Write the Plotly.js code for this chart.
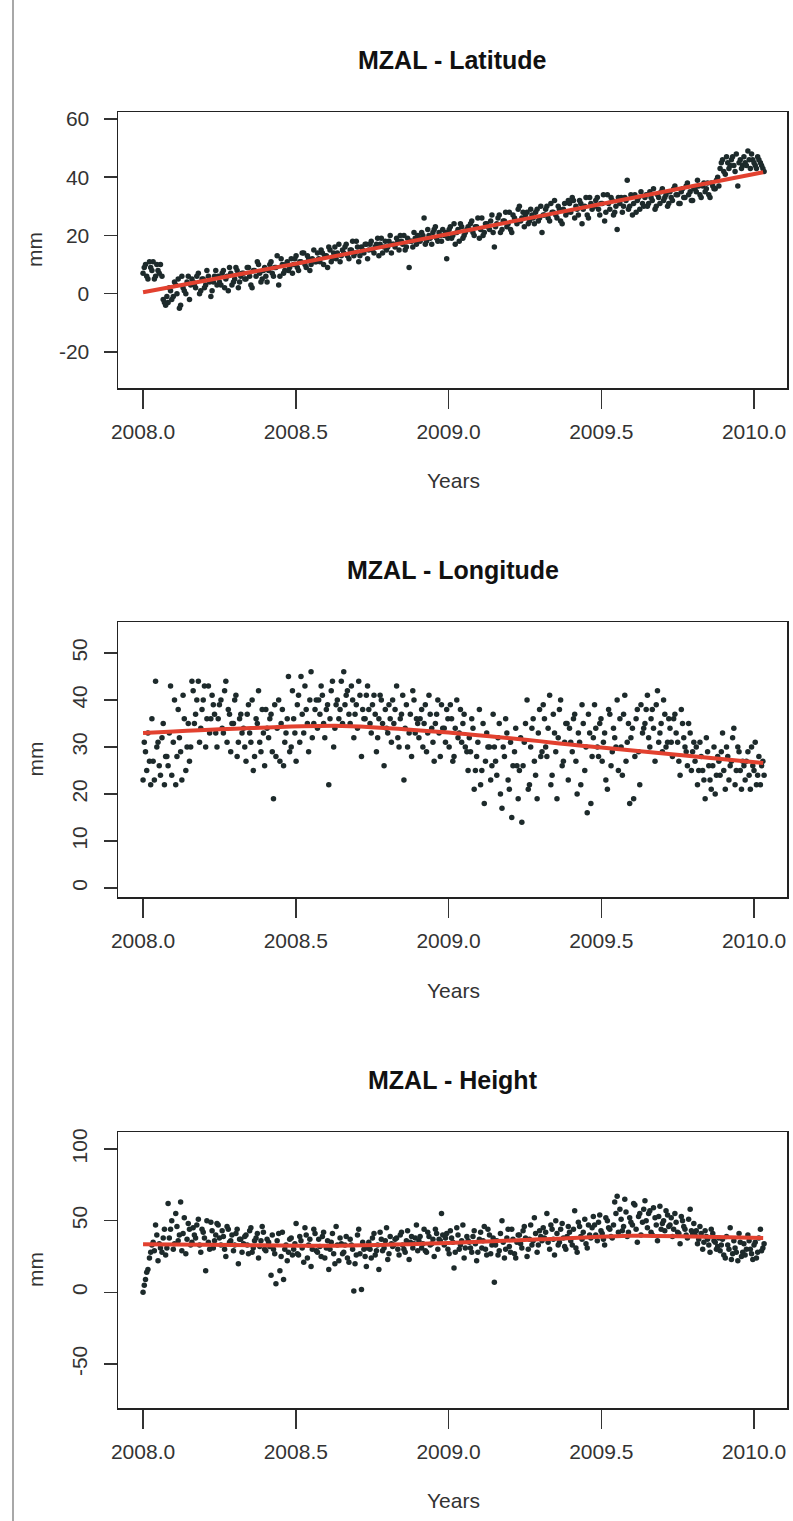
<!DOCTYPE html>
<html>
<head>
<meta charset="utf-8">
<script src="https://cdn.plot.ly/plotly-3.0.1.min.js"></script>
<style>
  html, body { margin: 0; padding: 0; background: #ffffff; }
  #chart { width: 793px; height: 1521px; }
</style>
</head>
<body>
<div id="chart"></div>
<script>
// Observation epochs (decimal years), first and second sampling passes
const epochsA = [
  2008.000, 2008.008, 2008.016, 2008.025, 2008.033, 2008.041, 2008.049, 2008.057, 2008.066, 2008.074,
  2008.082, 2008.090, 2008.099, 2008.107, 2008.115, 2008.123, 2008.131, 2008.140, 2008.148, 2008.156,
  2008.164, 2008.172, 2008.181, 2008.189, 2008.197, 2008.205, 2008.214, 2008.222, 2008.230, 2008.238,
  2008.246, 2008.255, 2008.263, 2008.271, 2008.279, 2008.287, 2008.296, 2008.304, 2008.312, 2008.320,
  2008.329, 2008.337, 2008.345, 2008.353, 2008.361, 2008.370, 2008.378, 2008.386, 2008.394, 2008.402,
  2008.411, 2008.419, 2008.427, 2008.435, 2008.444, 2008.452, 2008.460, 2008.468, 2008.476, 2008.485,
  2008.493, 2008.501, 2008.509, 2008.517, 2008.526, 2008.534, 2008.542, 2008.550, 2008.559, 2008.567,
  2008.575, 2008.583, 2008.591, 2008.600, 2008.608, 2008.616, 2008.624, 2008.632, 2008.641, 2008.649,
  2008.657, 2008.665, 2008.674, 2008.682, 2008.690, 2008.698, 2008.706, 2008.715, 2008.723, 2008.731,
  2008.739, 2008.747, 2008.756, 2008.764, 2008.772, 2008.780, 2008.789, 2008.797, 2008.805, 2008.813,
  2008.821, 2008.830, 2008.838, 2008.846, 2008.854, 2008.862, 2008.871, 2008.879, 2008.887, 2008.895,
  2008.903, 2008.912, 2008.920, 2008.928, 2008.936, 2008.945, 2008.953, 2008.961, 2008.969, 2008.977,
  2008.986, 2008.994, 2009.002, 2009.010, 2009.018, 2009.027, 2009.035, 2009.043, 2009.051, 2009.060,
  2009.068, 2009.076, 2009.084, 2009.092, 2009.101, 2009.109, 2009.117, 2009.125, 2009.134, 2009.142,
  2009.150, 2009.158, 2009.166, 2009.175, 2009.183, 2009.191, 2009.199, 2009.207, 2009.216, 2009.224,
  2009.232, 2009.240, 2009.248, 2009.257, 2009.265, 2009.273, 2009.281, 2009.290, 2009.298, 2009.306,
  2009.314, 2009.322, 2009.331, 2009.339, 2009.347, 2009.355, 2009.363, 2009.372, 2009.380, 2009.388,
  2009.396, 2009.405, 2009.413, 2009.421, 2009.429, 2009.437, 2009.446, 2009.454, 2009.462, 2009.470,
  2009.478, 2009.487, 2009.495, 2009.503, 2009.511, 2009.520, 2009.528, 2009.536, 2009.544, 2009.552,
  2009.561, 2009.569, 2009.577, 2009.585, 2009.593, 2009.602, 2009.610, 2009.618, 2009.626, 2009.635,
  2009.643, 2009.651, 2009.659, 2009.667, 2009.676, 2009.684, 2009.692, 2009.700, 2009.708, 2009.717,
  2009.725, 2009.733, 2009.741, 2009.750, 2009.758, 2009.766, 2009.774, 2009.782, 2009.791, 2009.799,
  2009.807, 2009.815, 2009.823, 2009.832, 2009.840, 2009.848, 2009.856, 2009.865, 2009.873, 2009.881,
  2009.889, 2009.897, 2009.906, 2009.914, 2009.922, 2009.930, 2009.938, 2009.947, 2009.955, 2009.963,
  2009.971, 2009.980, 2009.988, 2009.996, 2010.004, 2010.012, 2010.021, 2010.029
];
const epochsB = [
  2008.004, 2008.012, 2008.021, 2008.029, 2008.037, 2008.045, 2008.053, 2008.062, 2008.070, 2008.078,
  2008.086, 2008.094, 2008.103, 2008.111, 2008.119, 2008.127, 2008.135, 2008.144, 2008.152, 2008.160,
  2008.168, 2008.176, 2008.185, 2008.193, 2008.201, 2008.209, 2008.218, 2008.226, 2008.234, 2008.242,
  2008.250, 2008.259, 2008.267, 2008.275, 2008.283, 2008.291, 2008.300, 2008.308, 2008.316, 2008.324,
  2008.333, 2008.341, 2008.349, 2008.357, 2008.365, 2008.374, 2008.382, 2008.390, 2008.398, 2008.406,
  2008.415, 2008.423, 2008.431, 2008.439, 2008.448, 2008.456, 2008.464, 2008.472, 2008.480, 2008.489,
  2008.497, 2008.505, 2008.513, 2008.521, 2008.530, 2008.538, 2008.546, 2008.554, 2008.563, 2008.571,
  2008.579, 2008.587, 2008.595, 2008.604, 2008.612, 2008.620, 2008.628, 2008.636, 2008.645, 2008.653,
  2008.661, 2008.669, 2008.678, 2008.686, 2008.694, 2008.702, 2008.710, 2008.719, 2008.727, 2008.735,
  2008.743, 2008.751, 2008.760, 2008.768, 2008.776, 2008.784, 2008.793, 2008.801, 2008.809, 2008.817,
  2008.825, 2008.834, 2008.842, 2008.850, 2008.858, 2008.866, 2008.875, 2008.883, 2008.891, 2008.899,
  2008.907, 2008.916, 2008.924, 2008.932, 2008.940, 2008.949, 2008.957, 2008.965, 2008.973, 2008.981,
  2008.990, 2008.998, 2009.006, 2009.014, 2009.022, 2009.031, 2009.039, 2009.047, 2009.055, 2009.064,
  2009.072, 2009.080, 2009.088, 2009.096, 2009.105, 2009.113, 2009.121, 2009.129, 2009.138, 2009.146,
  2009.154, 2009.162, 2009.170, 2009.179, 2009.187, 2009.195, 2009.203, 2009.211, 2009.220, 2009.228,
  2009.236, 2009.244, 2009.252, 2009.261, 2009.269, 2009.277, 2009.285, 2009.294, 2009.302, 2009.310,
  2009.318, 2009.326, 2009.335, 2009.343, 2009.351, 2009.359, 2009.367, 2009.376, 2009.384, 2009.392,
  2009.400, 2009.409, 2009.417, 2009.425, 2009.433, 2009.441, 2009.450, 2009.458, 2009.466, 2009.474,
  2009.482, 2009.491, 2009.499, 2009.507, 2009.515, 2009.524, 2009.532, 2009.540, 2009.548, 2009.556,
  2009.565, 2009.573, 2009.581, 2009.589, 2009.597, 2009.606, 2009.614, 2009.622, 2009.630, 2009.639,
  2009.647, 2009.655, 2009.663, 2009.671, 2009.680, 2009.688, 2009.696, 2009.704, 2009.712, 2009.721,
  2009.729, 2009.737, 2009.745, 2009.754, 2009.762, 2009.770, 2009.778, 2009.786, 2009.795, 2009.803,
  2009.811, 2009.819, 2009.827, 2009.836, 2009.844, 2009.852, 2009.860, 2009.869, 2009.877, 2009.885,
  2009.893, 2009.901, 2009.910, 2009.918, 2009.926, 2009.934, 2009.942, 2009.951, 2009.959, 2009.967,
  2009.975, 2009.984, 2009.992, 2010.000, 2010.008, 2010.016, 2010.025, 2010.033
];

// MZAL latitude component (mm)
const latitudeA = [
  7, 10, 5, 9, 11, 6, 8, 10, -2, -4,
  -3, 1, -1, 3, 5, -4, 2, 0, 6, 3,
  4, 2, 7, 1, 5, 3, 6, -1, 4, 8,
  6, 3, 8, 5, 1, 7, 4, 9, 2, 6,
  7, 5, 9, 3, 8, 6, 10, 4, 8, 6,
  8, 11, 6, 9, 3, 12, 7, 10, 8, 12,
  10, 13, 8, 11, 14, 9, 12, 10, 15, 11,
  12, 15, 10, 13, 16, 11, 14, 12, 17, 13,
  14, 17, 12, 15, 13, 18, 11, 16, 14, 17,
  15, 18, 14, 17, 13, 19, 16, 15, 18, 14,
  17, 19, 15, 18, 20, 16, 9, 18, 21, 17,
  19, 21, 26, 18, 20, 17, 22, 19, 21, 18,
  20, 12, 22, 19, 24, 21, 18, 23, 20, 22,
  22, 25, 20, 23, 19, 26, 21, 24, 22, 27,
  16, 24, 27, 22, 25, 23, 28, 21, 26, 24,
  30, 26, 23, 28, 25, 27, 24, 29, 26, 21,
  27, 30, 25, 28, 32, 26, 29, 24, 31, 28,
  31, 33, 26, 29, 32, 24, 30, 27, 33, 29,
  30, 33, 27, 31, 25, 34, 29, 32, 28, 22,
  31, 28, 33, 39, 30, 27, 34, 32, 29, 31,
  33, 30, 35, 32, 29, 34, 31, 36, 33, 30,
  35, 32, 37, 34, 31, 36, 33, 38, 35, 32,
  36, 39, 34, 37, 35, 38, 33, 37, 36, 40,
  43, 46, 41, 45, 44, 47, 42, 37, 46, 44,
  45, 49, 43, 46, 44, 47, 45, 43
];
const latitudeB = [
  9, 6, 11, 8, 5, 10, 7, 6, -3, -1,
  2, -2, 4, 0, -5, 6, 1, 4, -2, 5,
  3, 6, 0, 5, 2, 8, 4, 1, 6, 3,
  4, 7, 2, 6, 9, 3, 5, 8, 4, 7,
  5, 9, 6, 2, 8, 11, 7, 5, 9, 4,
  10, 7, 9, 13, 6, 10, 8, 11, 9, 7,
  12, 9, 11, 14, 10, 13, 8, 12, 11, 14,
  11, 14, 13, 9, 15, 12, 16, 14, 11, 15,
  16, 13, 15, 18, 14, 16, 13, 15, 17, 12,
  17, 15, 16, 19, 17, 14, 18, 16, 20, 17,
  16, 18, 20, 17, 15, 19, 18, 16, 19, 20,
  18, 20, 17, 22, 19, 21, 23, 18, 20, 22,
  21, 19, 23, 20, 17, 22, 24, 19, 21, 23,
  24, 21, 23, 26, 22, 20, 24, 23, 25, 21,
  23, 26, 21, 25, 28, 24, 22, 27, 25, 29,
  25, 28, 27, 24, 29, 26, 28, 25, 30, 27,
  29, 26, 31, 28, 27, 30, 25, 29, 27, 32,
  28, 32, 30, 27, 31, 29, 33, 26, 31, 30,
  32, 29, 31, 34, 28, 31, 33, 27, 30, 33,
  33, 30, 32, 29, 34, 31, 28, 33, 35, 30,
  34, 31, 33, 36, 30, 33, 35, 32, 34, 31,
  33, 36, 34, 31, 35, 33, 37, 34, 32, 36,
  35, 37, 33, 38, 36, 34, 38, 36, 39, 37,
  45, 42, 47, 43, 46, 44, 48, 45, 43, 47,
  44, 46, 48, 45, 43, 46, 44, 42
];

// MZAL longitude component (mm)
const longitudeA = [
  23, 29, 33, 22, 27, 44, 31, 24, 35, 28,
  26, 43, 31, 22, 38, 29, 41, 25, 35, 30,
  42, 37, 44, 34, 40, 30, 43, 36, 39, 33,
  36, 40, 33, 44, 38, 29, 35, 41, 31, 37,
  34, 27, 39, 31, 25, 36, 42, 29, 33, 38,
  32, 37, 19, 28, 40, 35, 26, 33, 45, 30,
  36, 27, 41, 45, 33, 38, 29, 46, 35, 40,
  40, 43, 35, 38, 22, 42, 30, 39, 36, 44,
  46, 41, 37, 43, 32, 39, 44, 28, 36, 41,
  38, 33, 41, 29, 36, 40, 26, 34, 39, 31,
  35, 43, 30, 37, 23, 39, 33, 28, 40, 36,
  32, 38, 35, 29, 41, 34, 27, 37, 33, 39,
  34, 38, 30, 36, 28, 40, 33, 31, 37, 29,
  32, 36, 21, 28, 38, 25, 18, 33, 30, 26,
  30, 24, 35, 17, 28, 33, 21, 15, 29, 26,
  25, 14, 31, 40, 22, 34, 27, 19, 38, 29,
  36, 28, 41, 24, 33, 19, 38, 26, 31, 35,
  34, 29, 37, 20, 31, 39, 25, 16, 33, 28,
  39, 30, 35, 27, 33, 21, 37, 29, 32, 40,
  36, 24, 41, 31, 18, 34, 28, 38, 22, 33,
  35, 41, 30, 38, 27, 42, 33, 29, 37, 31,
  34, 28, 37, 31, 24, 35, 30, 26, 33, 29,
  27, 22, 31, 25, 19, 29, 23, 26, 20, 28,
  24, 33, 21, 28, 26, 32, 22, 30, 25, 27,
  23, 29, 21, 26, 31, 24, 22, 27
];
const longitudeB = [
  31, 25, 27, 36, 23, 30, 26, 32, 22, 28,
  33, 24, 40, 28, 32, 23, 36, 30, 27, 44,
  35, 40, 31, 38, 43, 36, 33, 41, 37, 30,
  39, 34, 42, 31, 37, 35, 40, 28, 36, 33,
  30, 37, 33, 40, 28, 35, 31, 38, 26, 34,
  36, 29, 39, 34, 27, 38, 31, 36, 29, 42,
  33, 39, 31, 37, 43, 35, 40, 32, 38, 34,
  37, 41, 32, 39, 36, 44, 34, 40, 38, 35,
  39, 42, 35, 40, 37, 34, 41, 38, 36, 43,
  35, 39, 37, 32, 41, 35, 38, 33, 36, 40,
  38, 32, 36, 41, 34, 30, 37, 42, 33, 35,
  36, 30, 39, 33, 37, 31, 35, 40, 28, 34,
  31, 36, 39, 27, 34, 32, 38, 35, 30, 25,
  29, 34, 25, 31, 22, 35, 27, 30, 23, 37,
  27, 32, 20, 30, 36, 23, 31, 26, 34, 19,
  32, 26, 35, 21, 30, 36, 24, 33, 28, 39,
  30, 34, 22, 37, 29, 32, 40, 27, 35, 23,
  31, 36, 27, 33, 22, 35, 30, 37, 18, 32,
  34, 28, 36, 31, 23, 38, 26, 34, 30, 25,
  30, 37, 27, 35, 32, 19, 36, 29, 39, 34,
  38, 32, 36, 34, 39, 31, 35, 40, 30, 36,
  31, 36, 33, 27, 38, 32, 29, 35, 25, 31,
  30, 25, 28, 23, 32, 26, 21, 30, 24, 27,
  29, 25, 30, 23, 27, 34, 25, 29, 21, 26,
  27, 24, 30, 25, 22, 28, 26, 24
];

// MZAL height component (mm)
const heightA = [
  0, 9, 16, 28, 35, 47, 22, 31, 38, 26,
  62, 44, 30, 55, 36, 63, 41, 27, 48, 33,
  45, 38, 51, 28, 42, 15, 35, 49, 31, 40,
  47, 33, 39, 25, 44, 36, 29, 41, 20, 37,
  34, 40, 27, 45, 31, 38, 24, 36, 42, 29,
  35, 12, 30, 6, 41, 25, 9, 33, 28, 38,
  30, 48, 26, 36, 21, 40, 33, 18, 44, 29,
  37, 25, 42, 31, 16, 35, 27, 46, 22, 34,
  28, 39, 21, 33, 1, 26, 44, 2, 30, 18,
  35, 24, 41, 29, 16, 37, 31, 45, 27, 34,
  33, 38, 26, 42, 30, 36, 23, 39, 34, 47,
  36, 31, 44, 28, 39, 34, 25, 41, 37, 55,
  33, 41, 27, 38, 17, 45, 30, 36, 24, 39,
  35, 28, 43, 22, 37, 31, 46, 26, 40, 33,
  7, 36, 29, 50, 24, 38, 32, 44, 27, 35,
  40, 31, 46, 25, 37, 33, 52, 28, 43, 36,
  38, 55, 30, 44, 26, 41, 35, 48, 32, 39,
  42, 33, 57, 28, 46, 37, 51, 31, 40, 45,
  47, 36, 54, 41, 33, 50, 44, 38, 63, 67,
  58, 43, 65, 39, 52, 47, 61, 35, 55, 49,
  64, 45, 57, 40, 52, 36, 60, 48, 43, 54,
  47, 39, 55, 42, 34, 50, 44, 38, 58, 41,
  40, 34, 46, 30, 43, 37, 28, 41, 35, 32,
  29, 37, 24, 33, 45, 27, 31, 22, 35, 28,
  26, 40, 30, 23, 35, 28, 44, 31
];
const heightB = [
  5, 14, 24, 33, 29, 40, 34, 28, 44, 31,
  38, 50, 34, 46, 40, 29, 52, 37, 44, 35,
  40, 47, 33, 44, 38, 50, 30, 43, 36, 48,
  38, 43, 30, 46, 35, 40, 33, 44, 37, 28,
  39, 33, 43, 28, 36, 41, 32, 46, 30, 37,
  32, 40, 27, 36, 15, 42, 30, 22, 37, 26,
  34, 27, 39, 31, 45, 24, 37, 30, 41, 28,
  32, 39, 24, 36, 30, 41, 20, 33, 38, 27,
  33, 24, 37, 30, 20, 40, 27, 35, 25, 31,
  30, 38, 26, 33, 42, 29, 36, 23, 39, 32,
  37, 30, 40, 33, 28, 43, 35, 31, 38, 29,
  39, 34, 29, 42, 33, 37, 44, 30, 36, 40,
  38, 30, 43, 35, 28, 40, 33, 47, 31, 36,
  31, 39, 34, 28, 42, 36, 30, 44, 27, 38,
  33, 26, 41, 35, 30, 44, 28, 37, 24, 40,
  34, 43, 38, 30, 47, 36, 41, 33, 39, 45,
  42, 35, 47, 37, 50, 33, 44, 38, 30, 46,
  36, 44, 31, 49, 39, 42, 34, 47, 38, 53,
  40, 49, 43, 37, 52, 45, 39, 47, 55, 42,
  51, 46, 56, 42, 49, 62, 44, 53, 40, 58,
  50, 55, 42, 59, 47, 53, 44, 50, 57, 46,
  52, 44, 49, 41, 53, 46, 40, 51, 43, 48,
  43, 37, 41, 35, 39, 33, 44, 36, 30, 38,
  33, 26, 39, 30, 23, 36, 28, 41, 25, 34,
  30, 36, 27, 33, 24, 38, 29, 34
];

// Fitted trend curves (red)
const latTrendT = [2008.0, 2008.5, 2009.0, 2009.5, 2010.03];
const latTrend  = [0.5, 10.3, 20.5, 30.8, 41.7];
const lonTrendT = [2008.0, 2008.3, 2008.65, 2009.0, 2009.5, 2010.03];
const lonTrend  = [33.0, 33.9, 34.5, 33.1, 29.9, 26.6];
const hgtTrendT = [2008.0, 2008.3, 2008.6, 2009.0, 2009.3, 2009.6, 2009.8, 2010.03];
const hgtTrend  = [33.5, 33.0, 32.5, 34.5, 37.0, 39.5, 39.0, 38.0];

// Panel titles, tick values and tick labels
const panelTitles = ['MZAL - Latitude', 'MZAL - Longitude', 'MZAL - Height'];
const xTicks = [2008.0, 2008.5, 2009.0, 2009.5, 2010.0];
const xTickText = ['2008.0', '2008.5', '2009.0', '2009.5', '2010.0'];
const latTicks = [-20, 0, 20, 40, 60];
const latTickText = ['-20', '0', '20', '40', '60'];
const lonTicks = [0, 10, 20, 30, 40, 50];
const lonTickText = ['0', '10', '20', '30', '40', '50'];
const hgtTicks = [-50, 0, 50, 100];
const hgtTickText = ['-50', '0', '50', '100'];

const W = 793, H = 1521;
const FONT = 'Liberation Sans, Arial, Helvetica, sans-serif';
const DOT = '#1d2a2b';
const RED = '#e2412f';

function px(x) { return x / W; }
function py(y) { return 1 - y / H; }

const boxLeft = 118, boxRight = 787;
const panels = [
  { top: 112, bottom: 388, titleY: 60, yearsY: 480, a: latitudeA, b: latitudeB,
    tT: latTrendT, tV: latTrend, ticks: latTicks, tickText: latTickText,
    range: [-32.4, 62.4], angle: 0 },
  { top: 622, bottom: 897, titleY: 570, yearsY: 990, a: longitudeA, b: longitudeB,
    tT: lonTrendT, tV: lonTrend, ticks: lonTicks, tickText: lonTickText,
    range: [-1.9, 56.6], angle: -90 },
  { top: 1132, bottom: 1408, titleY: 1080, yearsY: 1500, a: heightA, b: heightB,
    tT: hgtTrendT, tV: hgtTrend, ticks: hgtTicks, tickText: hgtTickText,
    range: [-80.7, 111.9], angle: -90 }
];

const traces = [];
const layout = {
  width: W, height: H,
  margin: { l: 0, r: 0, t: 0, b: 0 },
  paper_bgcolor: '#ffffff', plot_bgcolor: '#ffffff',
  showlegend: false,
  font: { family: FONT, color: '#2a2a2a' },
  annotations: [],
  shapes: [{
    type: 'line', xref: 'paper', yref: 'paper',
    x0: px(13), x1: px(13), y0: 0, y1: 1,
    line: { color: '#a8a8a8', width: 2 }
  }]
};

panels.forEach((p, i) => {
  const n = i === 0 ? '' : String(i + 1);
  const xa = 'x' + n, ya = 'y' + n;
  traces.push({
    type: 'scatter', mode: 'markers',
    x: epochsA.concat(epochsB), y: p.a.concat(p.b),
    xaxis: xa, yaxis: ya,
    marker: { color: DOT, size: 5.5, line: { width: 0 } },
    hoverinfo: 'x+y'
  });
  traces.push({
    type: 'scatter', mode: 'lines', x: p.tT, y: p.tV,
    xaxis: xa, yaxis: ya,
    line: { color: RED, width: 4, shape: 'spline', smoothing: 0.8 },
    hoverinfo: 'skip'
  });
  const common = {
    showgrid: false, zeroline: false, showline: true, mirror: true,
    linecolor: '#222222', linewidth: 1.5,
    ticks: 'outside', tickcolor: '#333333', tickwidth: 1.5,
    tickfont: { family: FONT, size: 21, color: '#333333' },
    automargin: false, fixedrange: true
  };
  layout['xaxis' + n] = Object.assign({}, common, {
    anchor: ya, domain: [px(boxLeft), px(boxRight)],
    range: [2007.918, 2010.108],
    tickmode: 'array', tickvals: xTicks, ticktext: xTickText,
    ticklen: 19, ticklabelstandoff: 5
  });
  layout['yaxis' + n] = Object.assign({}, common, {
    anchor: xa, domain: [py(p.bottom), py(p.top)],
    range: p.range,
    tickmode: 'array', tickvals: p.ticks, ticktext: p.tickText,
    ticklen: 13, tickangle: p.angle,
    ticklabelstandoff: p.angle === 0 ? 10 : 8
  });
  layout.annotations.push({
    xref: 'paper', yref: 'paper', x: px((boxLeft + boxRight) / 2), y: py(p.titleY),
    text: '<b>' + panelTitles[i] + '</b>', showarrow: false,
    xanchor: 'center', yanchor: 'middle',
    font: { family: FONT, size: 25, color: '#111111' }
  });
  layout.annotations.push({
    xref: 'paper', yref: 'paper', x: px(453), y: py(p.yearsY),
    text: 'Years', showarrow: false, xanchor: 'center', yanchor: 'middle',
    font: { family: FONT, size: 21, color: '#333333' }
  });
  layout.annotations.push({
    xref: 'paper', yref: 'paper', x: px(35), y: py((p.top + p.bottom) / 2),
    text: 'mm', showarrow: false, textangle: -90, xanchor: 'center', yanchor: 'middle',
    font: { family: FONT, size: 21, color: '#333333' }
  });
});

Plotly.newPlot('chart', traces, layout, { staticPlot: true, displayModeBar: false });
</script>
</body>
</html>
